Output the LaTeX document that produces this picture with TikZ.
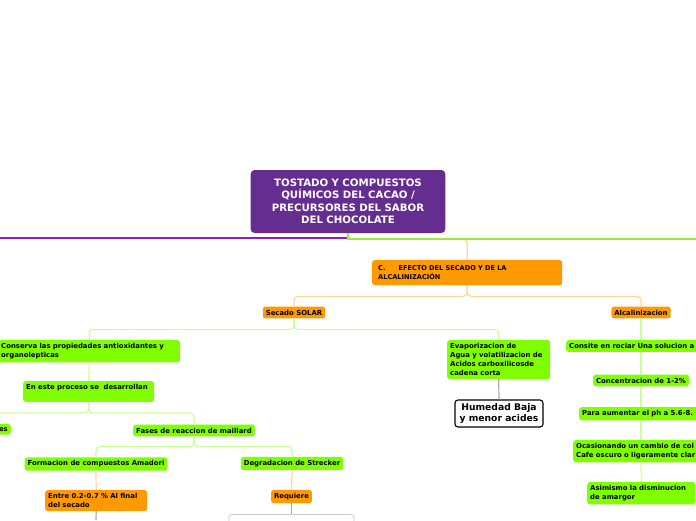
\documentclass[tikz,border=0pt]{standalone}
\usepackage{fontspec}
\setmainfont{DejaVu Sans}
\definecolor{rootpurple}{HTML}{662D91}
\definecolor{leafgreen}{HTML}{80FF00}
\definecolor{branchorange}{HTML}{FF9900}
\definecolor{purpleline}{HTML}{8A1DD1}
\definecolor{greenline}{HTML}{9BEB3C}
\definecolor{palegreen}{HTML}{CCFF99}
\definecolor{paleorange}{HTML}{FFD699}
\definecolor{greyline}{HTML}{AAAAAA}
\tikzset{
  leaf/.style={fill=leafgreen, rounded corners=2.5pt, inner xsep=3pt, inner ysep=3.2pt,
    font=\bfseries\fontsize{6.9}{9}\selectfont, align=left},
  branch/.style={leaf, fill=branchorange},
  gconn/.style={draw=palegreen, line width=1.2pt, rounded corners=4pt},
  oconn/.style={draw=paleorange, line width=1.2pt, rounded corners=4pt},
  kconn/.style={draw=greyline, line width=1.2pt, rounded corners=4pt}
}
\begin{document}
\begin{tikzpicture}[x=1pt,y=-1pt]
    \useasboundingbox (0,0) rectangle (696,520);
    \clip (0,0) rectangle (696,520);
    %root
    \node[fill=rootpurple, text=white, rounded corners=4pt, minimum width=194pt, minimum height=63pt,
      text width=188pt, align=center, font=\bfseries\fontsize{10.2}{12.5}\selectfont]
      (root) at (348,201.5) {TOSTADO Y COMPUESTOS\\QUÍMICOS DEL CACAO /\\PRECURSORES DEL SABOR\\DEL CHOCOLATE};
    \coordinate (lft) at (0,238); \coordinate (rgt) at (696,239);
    \node[branch, anchor=north west, text width=178pt, inner xsep=6pt, minimum height=25pt,
      font=\bfseries\fontsize{6.6}{8.5}\selectfont] (efecto) at (372,260)
      {C.\hspace{13pt}EFECTO DEL SECADO Y DE LA\\ALCALINIZACIÓN};
    \draw[oconn] (root.south) -- ++(0,6) -| (efecto.north);
    \draw[draw=purpleline, line width=1.3pt] (root.south) |- (lft);
    \draw[draw=greenline, line width=1.8pt] (root.south) |- (rgt);
    %secado solar
    \node[branch] (secado) at (294,312.5) {Secado SOLAR};
    \node[branch] (alcal) at (641,312.5) {Alcalinizacion};
    \draw[oconn] (efecto.south) -- ++(0,11) -| (secado.north);
    \draw[oconn] (efecto.south) -- ++(0,11) -| (alcal.north);
    \node[leaf, anchor=north west, text width=176pt] (conserva) at (-2,340)
      {Conserva las propiedades antioxidantes y\\organolepticas};
    \node[leaf, anchor=north west, text width=97pt] (evapor) at (447,340)
      {Evaporizacion de\\Agua y volatilizacion de\\Acidos carboxilicosde\\cadena corta};
    \draw[gconn] (secado.south) -- ++(0,11) -| (conserva.north);
    \draw[gconn] (secado.south) -- ++(0,11) -| (evapor.north);
    \node[draw=black, fill=white, line width=1.1pt, rounded corners=3pt, minimum width=88pt,
      minimum height=27pt, align=center, inner sep=2pt, font=\bfseries\fontsize{9.2}{10.5}\selectfont]
      (humedad) at (499,413.5) {Humedad Baja\\y menor acides};
    \draw[kconn] (evapor.south) -- (humedad.north);
    \node[leaf, anchor=north west, text width=125pt] (proceso) at (23,381)
      {En este proceso se\ \ desarrollan\\~};
    \draw[gconn] (conserva.south) -- (proceso.north);
    \node[leaf, anchor=north east, text width=60pt, align=right] (es) at (11,424) {es};
    \node[leaf] (fases) at (194,430.5) {Fases de reaccion de maillard};
    \draw[gconn] (proceso.south) -- ++(0,11) -| (es.north);
    \draw[gconn] (proceso.south) -- ++(0,11) -| (fases.north);
    %maillard
    \node[leaf] (formacion) at (96,464) {Formacion de compuestos Amadori};
    \node[leaf] (strecker) at (292,463.5) {Degradacion de Strecker};
    \draw[gconn] (fases.south) -- ++(0,10) -| (formacion.north);
    \draw[gconn] (fases.south) -- ++(0,10) -| (strecker.north);
    \node[branch, anchor=north west, text width=96pt] (entre) at (45,490)
      {Entre 0.2-0.7 \% Al final\\del secado};
    \node[branch] (requiere) at (291.5,496.5) {Requiere};
    \draw[oconn] (formacion.south) -- (entre.north);
    \draw[oconn] (strecker.south) -- (requiere.north);
    \coordinate (bot) at (96,520);
    \draw[kconn] (entre.south) -- (bot);
    \node[draw=black!20, fill=white, rounded corners=3pt, line width=0.8pt, minimum width=125pt,
      minimum height=25pt, anchor=north] (hidden) at (291.5,514) {};
    \draw[kconn] (requiere.south) -- (hidden.north);
    %alcalinizacion
    \node[leaf, anchor=north west, text width=140pt] (consite) at (566,340)
      {Consite en rociar Una solucion a};
    \node[leaf] (concent) at (641,380.5) {Concentracion de 1-2\%};
    \node[leaf, anchor=north west, text width=130pt] (para) at (579,407)
      {Para aumentar el ph a 5.6-8.};
    \node[leaf, anchor=north west, text width=130pt] (ocasion) at (573,440)
      {Ocasionando un cambio de col\\Cafe oscuro o ligeramente clar};
    \node[leaf, anchor=north west, text width=102pt] (asimismo) at (587,482)
      {Asimismo la disminucion\\de amargor};
    \draw[gconn] (alcal.south) -- (alcal.south |- consite.north);
    \draw[gconn] (alcal.south |- consite.south) -- (concent.north);
    \draw[gconn] (concent.south) -- (concent.south |- para.north);
    \draw[gconn] (concent.south |- para.south) -- (concent.south |- ocasion.north);
    \draw[gconn] (concent.south |- ocasion.south) -- (asimismo.north);
\end{tikzpicture}
\end{document}
